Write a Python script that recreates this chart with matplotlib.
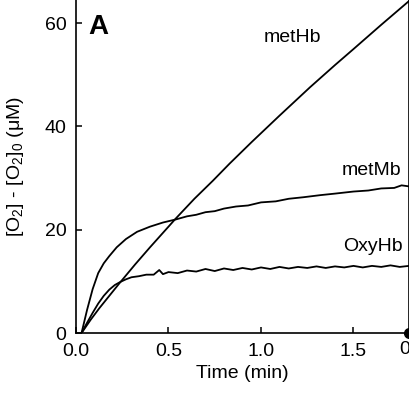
import matplotlib
matplotlib.use('Agg')
import matplotlib.pyplot as plt

plt.rcParams['font.family'] = ['Liberation Sans', 'DejaVu Sans']
plt.rcParams['mathtext.default'] = 'regular'

# values (time in min, O2 in uM)
t_methb = [0.03, 0.08, 0.126, 0.18, 0.234, 0.32, 0.40, 0.47, 0.54, 0.64, 0.74, 0.83,
           0.95, 1.10, 1.265, 1.40, 1.50, 1.65, 1.80]
methb = [0.0, 2.6, 4.8, 7.2, 9.6, 13.3, 16.6, 19.4, 22.2, 26.0, 29.5, 32.8,
         37.0, 42.1, 47.6, 51.9, 55.0, 59.7, 64.3]

t_metmb = [0.03, 0.06, 0.09, 0.12, 0.15, 0.18, 0.22, 0.27, 0.33, 0.40, 0.47, 0.54,
           0.60, 0.65, 0.70, 0.75, 0.80, 0.865, 0.93, 1.00, 1.08, 1.15, 1.23, 1.32,
           1.40, 1.50, 1.58, 1.65, 1.72, 1.76, 1.80]
metmb = [0.0, 4.5, 8.5, 11.6, 13.5, 14.9, 16.6, 18.2, 19.6, 20.6, 21.4, 22.0,
         22.6, 22.9, 23.4, 23.6, 24.1, 24.5, 24.7, 25.3, 25.5, 26.0, 26.3, 26.7,
         27.0, 27.4, 27.6, 28.0, 28.1, 28.6, 28.4]

t_oxyhb = [0.03, 0.06, 0.09, 0.12, 0.15, 0.18, 0.21, 0.24, 0.27, 0.30, 0.34, 0.38,
           0.42, 0.45, 0.47, 0.50, 0.55, 0.60, 0.65, 0.70, 0.75, 0.80, 0.85, 0.90,
           0.95, 1.00, 1.05, 1.10, 1.15, 1.20, 1.25, 1.30, 1.35, 1.40, 1.45, 1.50,
           1.55, 1.60, 1.65, 1.70, 1.75, 1.80]
oxyhb = [0.0, 2.0, 3.9, 5.7, 7.2, 8.4, 9.3, 9.9, 10.4, 10.8, 11.0, 11.3,
         11.3, 12.2, 11.4, 11.8, 11.6, 12.1, 11.9, 12.4, 12.0, 12.5, 12.2, 12.6,
         12.3, 12.7, 12.4, 12.8, 12.5, 12.8, 12.6, 12.9, 12.6, 12.9, 12.7, 13.0,
         12.7, 13.0, 12.8, 13.1, 12.8, 13.0]

x_ticks = [0.0, 0.5, 1.0, 1.5]
y_ticks = [0, 20, 40, 60]

fig = plt.figure(figsize=(4.10, 3.94), dpi=100)
ax = fig.add_axes([76 / 410, 61 / 394, 333 / 410, 333 / 394])

for t, y in [(t_methb, methb), (t_metmb, metmb), (t_oxyhb, oxyhb)]:
    ax.plot(t, y, color='black', lw=1.3)

ax.set_xlim(0, 1.8)
ax.set_ylim(0, 64.5)
ax.set_xticks(x_ticks)
ax.set_xticklabels(['%.1f' % v for v in x_ticks])
ax.set_yticks(y_ticks)
ax.tick_params(direction='in', length=4, width=1.1, labelsize=14, pad=7)
ax.spines['top'].set_visible(False)
for s in ['left', 'bottom', 'right']:
    ax.spines[s].set_linewidth(1.2)

ax.set_xlabel('Time (min)', fontsize=14, labelpad=4)
ax.set_ylabel('[O$_2$] - [O$_2$]$_0$ (\u03bcM)', fontsize=14)
ax.yaxis.set_label_coords(-0.15, 0.5)

ax.text(0.065, 59.2, 'A', fontsize=20, fontweight='bold', ha='left', va='center')
ax.text(1.168, 57.3, 'metHb', fontsize=14, ha='center', va='center')
ax.text(1.60, 31.5, 'metMb', fontsize=14, ha='center', va='center')
ax.text(1.605, 16.8, 'OxyHb', fontsize=14, ha='center', va='center')

# origin marker and first tick label of the neighbouring panel, cut by the edge
ax.plot([1.8], [0], 'o', color='black', ms=7, clip_on=False)
fig.text(413 / 410, 1 - 350 / 394, '0.0', fontsize=14, ha='center', va='center')

fig.savefig('out.png', dpi=100)
